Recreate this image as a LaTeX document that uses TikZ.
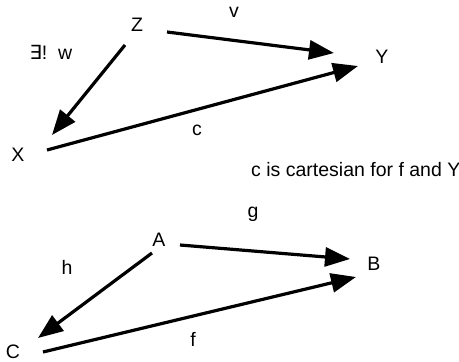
\documentclass[tikz,border=0pt]{standalone}
\usepackage{fontspec}
\setmainfont{Liberation Sans}
\newfontfamily\dejavu{DejaVu Sans}
\usetikzlibrary{arrows.meta}
\tikzset{
  lbl/.style={font=\fontsize{19.5}{23}\selectfont, inner sep=0pt},
  arr/.style={line width=3.2pt, -{Triangle[length=25pt,width=19pt]}}
}
\begin{document}
\begin{tikzpicture}[x=1pt,y=1pt]
\useasboundingbox (0,0) rectangle (459,-362);
% top square
\node[lbl] (Z) at (137,-25) {Z};
\node[lbl] (Y) at (382,-57) {Y};
\node[lbl] (X) at (18,-155) {X};
\node[lbl] (lv) at (234,-12) {v};
\node[lbl] (lw) at (51,-52) {{\dejavu ∃}!\ \ w};
\node[lbl] (lc) at (197,-130) {c};
\node[lbl, anchor=base west] (note) at (251,-176) {c is cartesian for f and Y};
\draw[arr] ([shift={(30,-7)}]Z.center) -- ([shift={(-48,4)}]Y.center);
\draw[arr] ([shift={(-12,-20)}]Z.center) -- ([shift={(34,20)}]X.center);
\draw[arr] ([shift={(29,5)}]X.center) -- ([shift={(-24,-9)}]Y.center);
% bottom
\node[lbl] (A) at (159,-240) {A};
\node[lbl] (B) at (374,-264) {B};
\node[lbl] (C) at (13,-352) {C};
\node[lbl] (lg) at (253,-214) {g};
\node[lbl] (lh) at (67,-267) {h};
\node[lbl] (lf) at (193,-339) {f};
\draw[arr] ([shift={(21,-5)}]A.center) -- ([shift={(-24,5)}]B.center);
\draw[arr] ([shift={(-7,-13)}]A.center) -- ([shift={(25,14)}]C.center);
\draw[arr] ([shift={(30,0)}]C.center) -- ([shift={(-18,-13)}]B.center);
\end{tikzpicture}
\end{document}
